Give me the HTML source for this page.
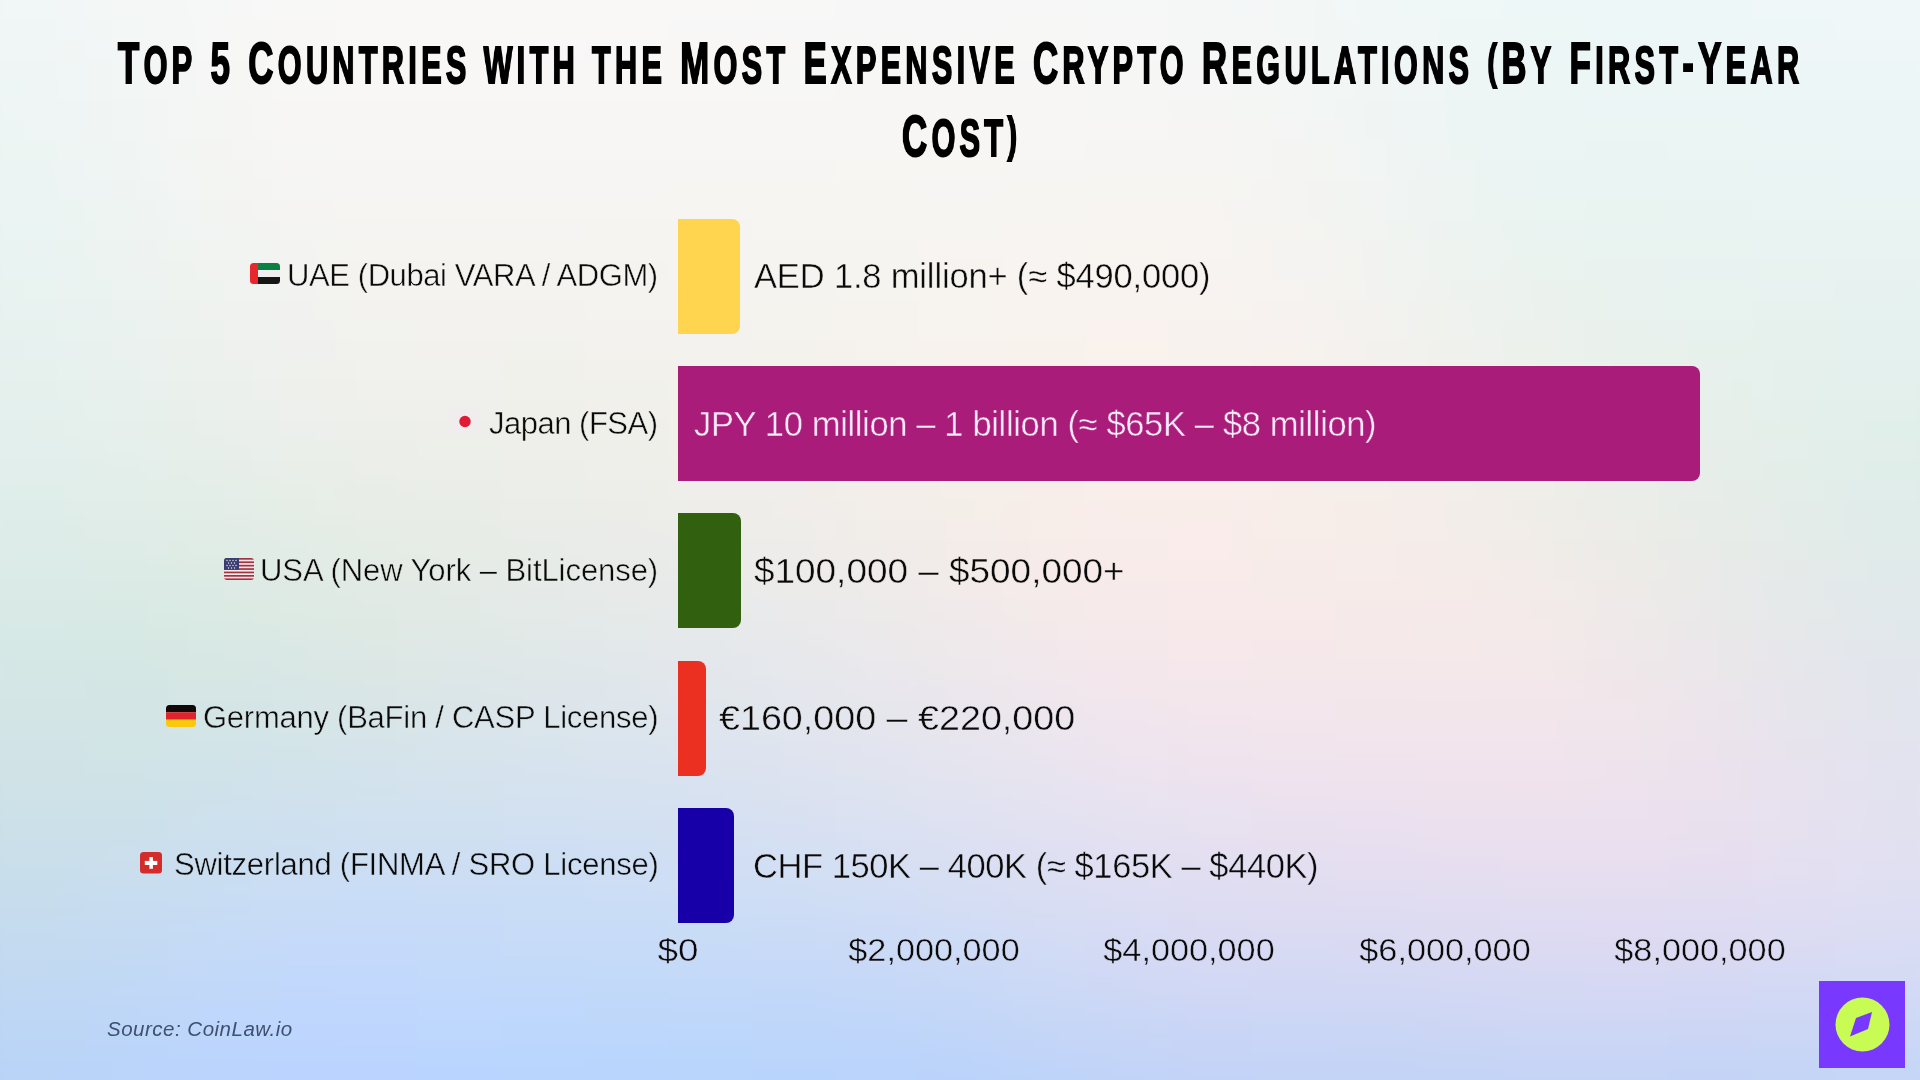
<!DOCTYPE html>
<html><head><meta charset="utf-8">
<style>
html,body{margin:0;padding:0;}
body{width:1920px;height:1080px;overflow:hidden;position:relative;font-family:"Liberation Sans",sans-serif;color:#0a0a0a;
}
.abs{position:absolute;white-space:nowrap;will-change:transform;}
.title{font-weight:bold;font-size:58px;line-height:58px;transform-origin:0 0;transform:scaleX(0.6);-webkit-text-stroke:2px #000;color:#000;letter-spacing:7.25px;}
.sc{font-size:51px;}
.pr{font-size:48px;position:relative;top:-5px;}
.lab{font-size:31px;line-height:31px;}
.val{font-size:34.5px;line-height:34.5px;}
.ax{font-size:32px;line-height:32px;transform:translateX(-50%) scaleX(1.07);}
.bar{position:absolute;left:678px;height:115px;border-radius:0 8px 8px 0;}
</style></head><body>
<div style="position:absolute;left:0;top:0;width:1920px;height:1080px;overflow:hidden;"><div id="bg" style="position:absolute;left:-40px;top:-40px;width:2000px;height:1160px;filter:blur(12px);">
<div style="position:absolute;left:0;top:0px;width:2000px;height:20px;background:linear-gradient(90deg,#f0f6f6 0.0%,#f1f6f6 4.2%,#f4f7f7 8.3%,#f7f7f7 12.5%,#f9f8f7 16.7%,#faf8f7 20.8%,#faf8f8 25.0%,#faf8f8 29.2%,#f9f8f8 33.3%,#f9f8f8 37.5%,#f8f8f8 41.7%,#f8f7f7 45.8%,#f7f7f7 50.0%,#f7f7f7 54.2%,#f6f7f7 58.3%,#f5f7f7 62.5%,#f4f7f7 66.7%,#f1f7f7 70.8%,#f0f7f7 75.0%,#eef7f7 79.2%,#eef7f7 83.3%,#eef7f8 87.5%,#eff7f8 91.7%,#eff7f8 95.8%,#f0f7f8 100.0%)"></div>
<div style="position:absolute;left:0;top:20px;width:2000px;height:20px;background:linear-gradient(90deg,#f0f6f6 0.0%,#f1f6f6 4.2%,#f4f7f7 8.3%,#f7f7f7 12.5%,#f9f8f7 16.7%,#faf8f7 20.8%,#faf8f8 25.0%,#faf8f8 29.2%,#f9f8f8 33.3%,#f9f8f8 37.5%,#f8f8f8 41.7%,#f8f7f7 45.8%,#f7f7f7 50.0%,#f7f7f7 54.2%,#f6f7f7 58.3%,#f5f7f7 62.5%,#f4f7f7 66.7%,#f1f7f7 70.8%,#f0f7f7 75.0%,#eef7f7 79.2%,#eef7f7 83.3%,#eef7f8 87.5%,#eff7f8 91.7%,#eff7f8 95.8%,#f0f7f8 100.0%)"></div>
<div style="position:absolute;left:0;top:40px;width:2000px;height:20px;background:linear-gradient(90deg,#f0f6f6 0.0%,#f1f6f6 4.2%,#f4f7f6 8.3%,#f6f7f7 12.5%,#f8f8f7 16.7%,#f9f8f7 20.8%,#faf8f7 25.0%,#f9f8f7 29.2%,#f9f8f7 33.3%,#f9f8f7 37.5%,#f8f8f7 41.7%,#f8f7f7 45.8%,#f7f7f7 50.0%,#f7f7f7 54.2%,#f6f7f7 58.3%,#f5f7f7 62.5%,#f3f7f6 66.7%,#f1f7f7 70.8%,#eff7f7 75.0%,#eef7f7 79.2%,#eef7f7 83.3%,#eef7f8 87.5%,#eff7f8 91.7%,#eff7f8 95.8%,#eff7f8 100.0%)"></div>
<div style="position:absolute;left:0;top:60px;width:2000px;height:20px;background:linear-gradient(90deg,#eff6f6 0.0%,#f0f6f6 4.2%,#f3f7f6 8.3%,#f6f7f6 12.5%,#f8f7f6 16.7%,#f9f8f7 20.8%,#f9f8f7 25.0%,#f9f8f7 29.2%,#f9f8f7 33.3%,#f8f7f7 37.5%,#f8f7f7 41.7%,#f7f7f7 45.8%,#f7f7f7 50.0%,#f7f7f6 54.2%,#f6f7f6 58.3%,#f5f7f6 62.5%,#f3f7f6 66.7%,#f1f7f6 70.8%,#eff7f6 75.0%,#edf7f6 79.2%,#edf7f7 83.3%,#edf7f7 87.5%,#eef7f7 91.7%,#eff7f8 95.8%,#eff7f8 100.0%)"></div>
<div style="position:absolute;left:0;top:80px;width:2000px;height:20px;background:linear-gradient(90deg,#eff6f5 0.0%,#f0f6f5 4.2%,#f3f6f6 8.3%,#f6f7f6 12.5%,#f8f7f6 16.7%,#f9f7f6 20.8%,#f9f7f6 25.0%,#f9f7f7 29.2%,#f8f7f7 33.3%,#f8f7f6 37.5%,#f8f7f6 41.7%,#f7f7f6 45.8%,#f7f7f6 50.0%,#f7f7f6 54.2%,#f6f7f6 58.3%,#f5f6f6 62.5%,#f3f6f5 66.7%,#f1f6f6 70.8%,#eef6f6 75.0%,#edf6f6 79.2%,#edf6f6 83.3%,#edf6f7 87.5%,#eef6f7 91.7%,#eef6f7 95.8%,#eef7f7 100.0%)"></div>
<div style="position:absolute;left:0;top:100px;width:2000px;height:20px;background:linear-gradient(90deg,#eef5f5 0.0%,#eff5f5 4.2%,#f2f6f5 8.3%,#f5f6f5 12.5%,#f8f7f5 16.7%,#f9f7f6 20.8%,#f9f7f6 25.0%,#f8f7f6 29.2%,#f8f7f6 33.3%,#f8f7f6 37.5%,#f7f7f6 41.7%,#f7f7f6 45.8%,#f7f6f6 50.0%,#f7f6f6 54.2%,#f6f6f5 58.3%,#f5f6f5 62.5%,#f3f6f5 66.7%,#f1f6f5 70.8%,#eef6f5 75.0%,#ecf6f5 79.2%,#ecf6f6 83.3%,#ecf6f6 87.5%,#edf6f6 91.7%,#edf6f7 95.8%,#eef6f7 100.0%)"></div>
<div style="position:absolute;left:0;top:120px;width:2000px;height:20px;background:linear-gradient(90deg,#edf5f5 0.0%,#eff5f5 4.2%,#f2f6f5 8.3%,#f5f6f5 12.5%,#f7f7f5 16.7%,#f8f7f5 20.8%,#f8f7f6 25.0%,#f8f7f6 29.2%,#f8f7f6 33.3%,#f8f7f5 37.5%,#f7f7f5 41.7%,#f7f6f5 45.8%,#f7f6f5 50.0%,#f7f6f5 54.2%,#f6f6f5 58.3%,#f5f6f5 62.5%,#f3f6f5 66.7%,#f1f6f5 70.8%,#eef6f5 75.0%,#ecf6f5 79.2%,#ebf6f5 83.3%,#ecf6f5 87.5%,#ecf6f6 91.7%,#edf6f6 95.8%,#edf6f6 100.0%)"></div>
<div style="position:absolute;left:0;top:140px;width:2000px;height:20px;background:linear-gradient(90deg,#edf5f4 0.0%,#eef5f4 4.2%,#f1f5f4 8.3%,#f4f6f4 12.5%,#f7f6f4 16.7%,#f8f6f5 20.8%,#f8f6f5 25.0%,#f8f6f5 29.2%,#f7f6f5 33.3%,#f7f6f5 37.5%,#f7f6f5 41.7%,#f7f6f5 45.8%,#f7f6f5 50.0%,#f7f6f5 54.2%,#f6f6f4 58.3%,#f5f6f4 62.5%,#f3f6f4 66.7%,#f0f5f4 70.8%,#edf5f4 75.0%,#ebf5f4 79.2%,#ebf5f5 83.3%,#ebf5f5 87.5%,#ecf5f5 91.7%,#ecf5f6 95.8%,#ecf5f6 100.0%)"></div>
<div style="position:absolute;left:0;top:160px;width:2000px;height:20px;background:linear-gradient(90deg,#ecf5f4 0.0%,#eef5f4 4.2%,#f1f5f4 8.3%,#f4f6f4 12.5%,#f7f6f4 16.7%,#f8f6f4 20.8%,#f7f6f5 25.0%,#f7f6f5 29.2%,#f7f6f4 33.3%,#f7f6f4 37.5%,#f7f6f4 41.7%,#f7f6f4 45.8%,#f7f6f4 50.0%,#f7f6f4 54.2%,#f7f6f4 58.3%,#f6f5f4 62.5%,#f4f5f4 66.7%,#f0f5f4 70.8%,#edf5f4 75.0%,#ebf5f4 79.2%,#ebf5f4 83.3%,#ebf5f4 87.5%,#ebf5f5 91.7%,#ecf5f5 95.8%,#ecf5f5 100.0%)"></div>
<div style="position:absolute;left:0;top:180px;width:2000px;height:20px;background:linear-gradient(90deg,#ecf4f3 0.0%,#edf5f3 4.2%,#f0f5f3 8.3%,#f4f5f3 12.5%,#f6f6f4 16.7%,#f7f6f4 20.8%,#f7f6f4 25.0%,#f7f6f4 29.2%,#f7f6f4 33.3%,#f7f6f4 37.5%,#f7f6f4 41.7%,#f7f6f4 45.8%,#f7f6f4 50.0%,#f7f6f4 54.2%,#f7f5f3 58.3%,#f6f5f3 62.5%,#f4f5f3 66.7%,#f1f5f3 70.8%,#edf5f3 75.0%,#ebf5f3 79.2%,#eaf5f3 83.3%,#eaf5f4 87.5%,#ebf5f4 91.7%,#ebf5f5 95.8%,#ebf5f5 100.0%)"></div>
<div style="position:absolute;left:0;top:200px;width:2000px;height:20px;background:linear-gradient(90deg,#ebf4f3 0.0%,#ecf4f3 4.2%,#f0f5f3 8.3%,#f3f5f3 12.5%,#f6f5f3 16.7%,#f7f5f3 20.8%,#f7f5f4 25.0%,#f6f5f4 29.2%,#f6f5f3 33.3%,#f7f5f3 37.5%,#f7f5f3 41.7%,#f7f6f3 45.8%,#f7f6f3 50.0%,#f7f5f3 54.2%,#f7f5f3 58.3%,#f6f5f3 62.5%,#f4f5f3 66.7%,#f1f5f3 70.8%,#edf4f3 75.0%,#eaf4f3 79.2%,#eaf4f3 83.3%,#eaf4f3 87.5%,#ebf4f4 91.7%,#ebf4f4 95.8%,#ebf4f4 100.0%)"></div>
<div style="position:absolute;left:0;top:220px;width:2000px;height:20px;background:linear-gradient(90deg,#eaf4f3 0.0%,#ecf4f3 4.2%,#eff4f3 8.3%,#f3f5f3 12.5%,#f5f5f3 16.7%,#f6f5f3 20.8%,#f6f5f3 25.0%,#f6f5f3 29.2%,#f6f5f3 33.3%,#f6f5f2 37.5%,#f6f5f2 41.7%,#f7f5f2 45.8%,#f7f5f3 50.0%,#f7f5f2 54.2%,#f7f5f2 58.3%,#f6f5f2 62.5%,#f4f4f2 66.7%,#f1f4f2 70.8%,#edf4f2 75.0%,#eaf4f2 79.2%,#eaf4f2 83.3%,#eaf4f2 87.5%,#eaf4f3 91.7%,#eaf4f4 95.8%,#eaf4f4 100.0%)"></div>
<div style="position:absolute;left:0;top:240px;width:2000px;height:20px;background:linear-gradient(90deg,#eaf4f2 0.0%,#ebf4f2 4.2%,#eef4f2 8.3%,#f2f4f2 12.5%,#f5f4f2 16.7%,#f6f5f2 20.8%,#f6f5f2 25.0%,#f6f5f2 29.2%,#f6f5f2 33.3%,#f6f5f2 37.5%,#f6f5f2 41.7%,#f7f5f2 45.8%,#f7f5f2 50.0%,#f7f5f2 54.2%,#f7f4f2 58.3%,#f7f4f2 62.5%,#f4f4f2 66.7%,#f1f4f2 70.8%,#edf4f2 75.0%,#eaf4f1 79.2%,#e9f4f1 83.3%,#e9f4f2 87.5%,#eaf4f2 91.7%,#eaf4f3 95.8%,#e9f4f3 100.0%)"></div>
<div style="position:absolute;left:0;top:260px;width:2000px;height:20px;background:linear-gradient(90deg,#e9f3f2 0.0%,#eaf4f2 4.2%,#eef4f2 8.3%,#f1f4f2 12.5%,#f4f4f2 16.7%,#f5f4f2 20.8%,#f5f4f2 25.0%,#f5f4f2 29.2%,#f5f4f1 33.3%,#f6f4f1 37.5%,#f6f5f1 41.7%,#f7f5f1 45.8%,#f7f5f1 50.0%,#f7f4f1 54.2%,#f8f4f1 58.3%,#f7f4f1 62.5%,#f5f4f1 66.7%,#f1f4f1 70.8%,#edf3f1 75.0%,#eaf3f1 79.2%,#e9f3f1 83.3%,#e9f3f1 87.5%,#e9f3f2 91.7%,#e9f3f2 95.8%,#e9f3f3 100.0%)"></div>
<div style="position:absolute;left:0;top:280px;width:2000px;height:20px;background:linear-gradient(90deg,#e8f3f1 0.0%,#eaf3f1 4.2%,#edf3f1 8.3%,#f1f4f1 12.5%,#f3f4f1 16.7%,#f5f4f1 20.8%,#f5f4f1 25.0%,#f5f4f1 29.2%,#f5f4f1 33.3%,#f5f4f0 37.5%,#f6f4f0 41.7%,#f6f4f0 45.8%,#f7f4f1 50.0%,#f8f4f1 54.2%,#f8f4f0 58.3%,#f7f4f1 62.5%,#f5f3f1 66.7%,#f2f3f1 70.8%,#eef3f0 75.0%,#eaf3f0 79.2%,#e9f3f0 83.3%,#e9f3f0 87.5%,#e9f3f1 91.7%,#e8f3f2 95.8%,#e8f3f2 100.0%)"></div>
<div style="position:absolute;left:0;top:300px;width:2000px;height:20px;background:linear-gradient(90deg,#e8f3f1 0.0%,#e9f3f1 4.2%,#edf3f1 8.3%,#f0f3f0 12.5%,#f3f3f0 16.7%,#f4f3f0 20.8%,#f4f3f0 25.0%,#f4f3f0 29.2%,#f5f3f0 33.3%,#f5f4f0 37.5%,#f6f4f0 41.7%,#f6f4f0 45.8%,#f7f4f0 50.0%,#f8f4f0 54.2%,#f8f4f0 58.3%,#f7f3f0 62.5%,#f5f3f1 66.7%,#f2f3f0 70.8%,#eef3f0 75.0%,#ebf3ef 79.2%,#e9f2ef 83.3%,#e8f2f0 87.5%,#e8f3f0 91.7%,#e8f3f1 95.8%,#e7f3f1 100.0%)"></div>
<div style="position:absolute;left:0;top:320px;width:2000px;height:20px;background:linear-gradient(90deg,#e7f2f0 0.0%,#e9f3f0 4.2%,#ecf3f0 8.3%,#eff3f0 12.5%,#f2f3f0 16.7%,#f4f3f0 20.8%,#f4f3f0 25.0%,#f4f3ef 29.2%,#f4f3ef 33.3%,#f5f3ef 37.5%,#f5f3ef 41.7%,#f6f4ef 45.8%,#f7f4ef 50.0%,#f8f3ef 54.2%,#f8f3ef 58.3%,#f8f3f0 62.5%,#f6f3f0 66.7%,#f2f3f0 70.8%,#eef2ef 75.0%,#ebf2ee 79.2%,#e9f2ee 83.3%,#e8f2ef 87.5%,#e8f2f0 91.7%,#e7f2f0 95.8%,#e6f2f1 100.0%)"></div>
<div style="position:absolute;left:0;top:340px;width:2000px;height:20px;background:linear-gradient(90deg,#e7f2f0 0.0%,#e8f2f0 4.2%,#ebf2ef 8.3%,#eff2ef 12.5%,#f1f2ef 16.7%,#f3f2ef 20.8%,#f3f2ef 25.0%,#f3f2ef 29.2%,#f4f3ef 33.3%,#f4f3ee 37.5%,#f5f3ee 41.7%,#f6f3ee 45.8%,#f7f3ee 50.0%,#f8f3ee 54.2%,#f8f3ef 58.3%,#f8f3ef 62.5%,#f6f2f0 66.7%,#f3f2ef 70.8%,#eff2ee 75.0%,#ebf2ee 79.2%,#e9f2ee 83.3%,#e8f2ee 87.5%,#e7f2ef 91.7%,#e6f2f0 95.8%,#e6f2f0 100.0%)"></div>
<div style="position:absolute;left:0;top:360px;width:2000px;height:20px;background:linear-gradient(90deg,#e6f2ef 0.0%,#e7f2ef 4.2%,#eaf2ef 8.3%,#eef2ef 12.5%,#f1f2ef 16.7%,#f2f2ee 20.8%,#f3f2ee 25.0%,#f3f2ee 29.2%,#f3f2ee 33.3%,#f4f2ee 37.5%,#f5f3ee 41.7%,#f6f3ee 45.8%,#f7f3ee 50.0%,#f8f3ee 54.2%,#f9f2ee 58.3%,#f8f2ee 62.5%,#f7f2ef 66.7%,#f3f2ef 70.8%,#eff2ee 75.0%,#ecf1ed 79.2%,#e9f1ed 83.3%,#e7f1ed 87.5%,#e6f1ee 91.7%,#e5f1ef 95.8%,#e5f1ef 100.0%)"></div>
<div style="position:absolute;left:0;top:380px;width:2000px;height:20px;background:linear-gradient(90deg,#e5f1ef 0.0%,#e7f1ef 4.2%,#eaf1ee 8.3%,#edf1ee 12.5%,#f0f1ee 16.7%,#f1f1ee 20.8%,#f2f1ed 25.0%,#f2f2ed 29.2%,#f3f2ed 33.3%,#f3f2ed 37.5%,#f4f2ed 41.7%,#f6f2ed 45.8%,#f7f2ed 50.0%,#f8f2ed 54.2%,#f9f2ed 58.3%,#f8f2ee 62.5%,#f7f2ee 66.7%,#f3f1ee 70.8%,#eff1ed 75.0%,#ecf1ec 79.2%,#e9f1ec 83.3%,#e7f1ec 87.5%,#e6f1ed 91.7%,#e5f1ee 95.8%,#e4f1ee 100.0%)"></div>
<div style="position:absolute;left:0;top:400px;width:2000px;height:20px;background:linear-gradient(90deg,#e5f1ee 0.0%,#e6f1ee 4.2%,#e9f1ee 8.3%,#ecf1ed 12.5%,#eff1ed 16.7%,#f1f1ed 20.8%,#f1f1ed 25.0%,#f1f1ec 29.2%,#f2f1ec 33.3%,#f3f1ec 37.5%,#f4f2ec 41.7%,#f5f2ec 45.8%,#f7f2ec 50.0%,#f8f2ec 54.2%,#f9f1ed 58.3%,#f8f1ed 62.5%,#f7f1ee 66.7%,#f4f1ed 70.8%,#f0f1ec 75.0%,#ecf0ec 79.2%,#e9f0eb 83.3%,#e7f0ec 87.5%,#e5f0ec 91.7%,#e4f0ed 95.8%,#e3f0ed 100.0%)"></div>
<div style="position:absolute;left:0;top:420px;width:2000px;height:20px;background:linear-gradient(90deg,#e4f0ee 0.0%,#e5f0ed 4.2%,#e8f0ed 8.3%,#ebf0ec 12.5%,#eef0ec 16.7%,#f0f0ec 20.8%,#f0f0ec 25.0%,#f1f1ec 29.2%,#f1f1ec 33.3%,#f2f1ec 37.5%,#f4f1ec 41.7%,#f5f1ec 45.8%,#f7f1eb 50.0%,#f8f1ec 54.2%,#f9f1ec 58.3%,#f9f1ed 62.5%,#f7f1ed 66.7%,#f4f1ed 70.8%,#f0f0ec 75.0%,#ecf0eb 79.2%,#e9f0eb 83.3%,#e7f0eb 87.5%,#e5f0ec 91.7%,#e3f0ec 95.8%,#e2f0ed 100.0%)"></div>
<div style="position:absolute;left:0;top:440px;width:2000px;height:20px;background:linear-gradient(90deg,#e3f0ed 0.0%,#e4f0ed 4.2%,#e7f0ec 8.3%,#eaf0ec 12.5%,#edf0ec 16.7%,#eff0eb 20.8%,#eff0eb 25.0%,#f0f0eb 29.2%,#f1f0eb 33.3%,#f2f0eb 37.5%,#f3f1eb 41.7%,#f5f1eb 45.8%,#f6f1eb 50.0%,#f8f1eb 54.2%,#f9f0ec 58.3%,#f9f0ec 62.5%,#f7f0ec 66.7%,#f4f0ec 70.8%,#f1f0eb 75.0%,#edf0ea 79.2%,#e9efea 83.3%,#e7efea 87.5%,#e4efeb 91.7%,#e2efeb 95.8%,#e1efec 100.0%)"></div>
<div style="position:absolute;left:0;top:460px;width:2000px;height:20px;background:linear-gradient(90deg,#e2efed 0.0%,#e4efec 4.2%,#e6efeb 8.3%,#e9efeb 12.5%,#ecefeb 16.7%,#edefea 20.8%,#eeefea 25.0%,#efefea 29.2%,#f0f0eb 33.3%,#f1f0eb 37.5%,#f2f0eb 41.7%,#f4f0eb 45.8%,#f6f0ea 50.0%,#f8f0eb 54.2%,#f9f0eb 58.3%,#f9f0eb 62.5%,#f7f0ec 66.7%,#f5f0eb 70.8%,#f1efeb 75.0%,#edefea 79.2%,#eaefe9 83.3%,#e7efea 87.5%,#e4efea 91.7%,#e1efeb 95.8%,#e0efeb 100.0%)"></div>
<div style="position:absolute;left:0;top:480px;width:2000px;height:20px;background:linear-gradient(90deg,#e2efec 0.0%,#e3efec 4.2%,#e5efeb 8.3%,#e7efea 12.5%,#eaefea 16.7%,#ecefe9 20.8%,#edefe9 25.0%,#eeefea 29.2%,#efefea 33.3%,#f0efea 37.5%,#f2efea 41.7%,#f4f0ea 45.8%,#f6f0ea 50.0%,#f8efea 54.2%,#f9efeb 58.3%,#f9efeb 62.5%,#f7efeb 66.7%,#f5efeb 70.8%,#f2efea 75.0%,#eeefe9 79.2%,#eaeee9 83.3%,#e7eee9 87.5%,#e4eeea 91.7%,#e1eeea 95.8%,#e0eeeb 100.0%)"></div>
<div style="position:absolute;left:0;top:500px;width:2000px;height:20px;background:linear-gradient(90deg,#e1eeeb 0.0%,#e2eeeb 4.2%,#e3eeea 8.3%,#e6eee9 12.5%,#e9eee9 16.7%,#ebeee9 20.8%,#eceee9 25.0%,#edeee9 29.2%,#eeeeea 33.3%,#efefea 37.5%,#f1efea 41.7%,#f3efea 45.8%,#f5efe9 50.0%,#f8efea 54.2%,#f9efea 58.3%,#f9eeea 62.5%,#f7eeea 66.7%,#f5efea 70.8%,#f2eeea 75.0%,#eeeee9 79.2%,#eaeee8 83.3%,#e7eee9 87.5%,#e3eee9 91.7%,#e0eeea 95.8%,#dfeeea 100.0%)"></div>
<div style="position:absolute;left:0;top:520px;width:2000px;height:20px;background:linear-gradient(90deg,#e0eeeb 0.0%,#e0eeea 4.2%,#e2eee9 8.3%,#e4eee8 12.5%,#e7eee8 16.7%,#e9ede8 20.8%,#ebeee8 25.0%,#eceee9 29.2%,#edeee9 33.3%,#efeeea 37.5%,#f0eeea 41.7%,#f3eeea 45.8%,#f5eee9 50.0%,#f7eee9 54.2%,#f9eeea 58.3%,#f9eeea 62.5%,#f7eeea 66.7%,#f5eeea 70.8%,#f2eee9 75.0%,#efeee9 79.2%,#ebede8 83.3%,#e7ede9 87.5%,#e4ede9 91.7%,#e0edea 95.8%,#dfedea 100.0%)"></div>
<div style="position:absolute;left:0;top:540px;width:2000px;height:20px;background:linear-gradient(90deg,#dfedea 0.0%,#dfedea 4.2%,#e1ede8 8.3%,#e3ede7 12.5%,#e6ede7 16.7%,#e8ede7 20.8%,#e9ede7 25.0%,#ebede8 29.2%,#ecede9 33.3%,#eeedea 37.5%,#f0edea 41.7%,#f2eee9 45.8%,#f4eee9 50.0%,#f7ede9 54.2%,#f9edea 58.3%,#f9edea 62.5%,#f7ede9 66.7%,#f6ede9 70.8%,#f3ede9 75.0%,#efede8 79.2%,#ebede8 83.3%,#e7ece8 87.5%,#e4ece9 91.7%,#e0ecea 95.8%,#dfecea 100.0%)"></div>
<div style="position:absolute;left:0;top:560px;width:2000px;height:20px;background:linear-gradient(90deg,#ddecea 0.0%,#deece9 4.2%,#dfece7 8.3%,#e1ece7 12.5%,#e4ece6 16.7%,#e6ece6 20.8%,#e8ece7 25.0%,#e9ece8 29.2%,#ebece9 33.3%,#ededea 37.5%,#efedea 41.7%,#f1ede9 45.8%,#f4ede9 50.0%,#f7ede9 54.2%,#f8edea 58.3%,#f9ecea 62.5%,#f7ede9 66.7%,#f6ede9 70.8%,#f3ede9 75.0%,#f0ede8 79.2%,#ecece8 83.3%,#e8ece8 87.5%,#e4ece9 91.7%,#e0ecea 95.8%,#dfecea 100.0%)"></div>
<div style="position:absolute;left:0;top:580px;width:2000px;height:20px;background:linear-gradient(90deg,#dcece9 0.0%,#ddece8 4.2%,#deece7 8.3%,#e0ece6 12.5%,#e2ece6 16.7%,#e5ece6 20.8%,#e7ece6 25.0%,#e8ece8 29.2%,#eaece9 33.3%,#ebecea 37.5%,#eeecea 41.7%,#f0ece9 45.8%,#f3ece9 50.0%,#f6ece9 54.2%,#f8ecea 58.3%,#f9ecea 62.5%,#f7ece9 66.7%,#f6ece9 70.8%,#f4ece9 75.0%,#f0ece8 79.2%,#ecebe8 83.3%,#e8ebe8 87.5%,#e4ebe9 91.7%,#e1ebea 95.8%,#dfebeb 100.0%)"></div>
<div style="position:absolute;left:0;top:600px;width:2000px;height:20px;background:linear-gradient(90deg,#dbebe8 0.0%,#dbebe7 4.2%,#dcebe6 8.3%,#deebe5 12.5%,#e1ebe5 16.7%,#e3ebe5 20.8%,#e5ebe6 25.0%,#e7ebe8 29.2%,#e8ebe9 33.3%,#eaebea 37.5%,#edebea 41.7%,#efecea 45.8%,#f2ece9 50.0%,#f6ebea 54.2%,#f8ebea 58.3%,#f8ebea 62.5%,#f7ebe9 66.7%,#f6ece9 70.8%,#f4ece9 75.0%,#f1ebe9 79.2%,#edebe8 83.3%,#e9eae9 87.5%,#e5eae9 91.7%,#e1eaea 95.8%,#e0eaeb 100.0%)"></div>
<div style="position:absolute;left:0;top:620px;width:2000px;height:20px;background:linear-gradient(90deg,#daeae7 0.0%,#daeae7 4.2%,#daeae5 8.3%,#dceae5 12.5%,#dfeae5 16.7%,#e2eae5 20.8%,#e4eae6 25.0%,#e5eae8 29.2%,#e7eae9 33.3%,#e9eaea 37.5%,#ebebea 41.7%,#eeebea 45.8%,#f2ebea 50.0%,#f5ebea 54.2%,#f7eaea 58.3%,#f8eaea 62.5%,#f7ebe9 66.7%,#f6ebe9 70.8%,#f5ebe9 75.0%,#f2ebe9 79.2%,#eeeae8 83.3%,#e9eae9 87.5%,#e5e9ea 91.7%,#e1e9eb 95.8%,#e0e9eb 100.0%)"></div>
<div style="position:absolute;left:0;top:640px;width:2000px;height:20px;background:linear-gradient(90deg,#d8e9e7 0.0%,#d9e9e6 4.2%,#d9eae5 8.3%,#dbeae4 12.5%,#deeae4 16.7%,#e0eae4 20.8%,#e2eae6 25.0%,#e4eae8 29.2%,#e6eae9 33.3%,#e8eaea 37.5%,#eaeaeb 41.7%,#edeaea 45.8%,#f1eaea 50.0%,#f4eaea 54.2%,#f7eaea 58.3%,#f8eaea 62.5%,#f7eae9 66.7%,#f6eae9 70.8%,#f5eae9 75.0%,#f2eae9 79.2%,#eeeae9 83.3%,#eae9e9 87.5%,#e5e9ea 91.7%,#e2e9eb 95.8%,#e0e9ec 100.0%)"></div>
<div style="position:absolute;left:0;top:660px;width:2000px;height:20px;background:linear-gradient(90deg,#d7e8e6 0.0%,#d7e9e6 4.2%,#d7e9e4 8.3%,#d9e9e4 12.5%,#dce9e4 16.7%,#dfe9e4 20.8%,#e1e9e6 25.0%,#e2e9e8 29.2%,#e4e9ea 33.3%,#e6e9eb 37.5%,#e9e9eb 41.7%,#ece9eb 45.8%,#efe9eb 50.0%,#f3e9eb 54.2%,#f6e9eb 58.3%,#f7e9ea 62.5%,#f7e9ea 66.7%,#f6e9ea 70.8%,#f5eaea 75.0%,#f3eae9 79.2%,#efe9e9 83.3%,#eae8e9 87.5%,#e6e8ea 91.7%,#e2e8eb 95.8%,#e0e8ec 100.0%)"></div>
<div style="position:absolute;left:0;top:680px;width:2000px;height:20px;background:linear-gradient(90deg,#d6e8e6 0.0%,#d6e8e5 4.2%,#d6e8e4 8.3%,#d8e8e4 12.5%,#dae8e5 16.7%,#dde8e5 20.8%,#dfe8e6 25.0%,#e1e8e8 29.2%,#e3e8ea 33.3%,#e5e8eb 37.5%,#e7e8eb 41.7%,#ebe9eb 45.8%,#eee9eb 50.0%,#f2e8eb 54.2%,#f5e8eb 58.3%,#f6e8eb 62.5%,#f6e8ea 66.7%,#f6e9ea 70.8%,#f5e9ea 75.0%,#f3e9ea 79.2%,#efe8ea 83.3%,#ebe7ea 87.5%,#e6e7eb 91.7%,#e2e7ec 95.8%,#e1e7ec 100.0%)"></div>
<div style="position:absolute;left:0;top:700px;width:2000px;height:20px;background:linear-gradient(90deg,#d5e7e6 0.0%,#d5e7e5 4.2%,#d5e7e4 8.3%,#d6e7e4 12.5%,#d9e7e5 16.7%,#dce7e5 20.8%,#dee7e7 25.0%,#dfe7e9 29.2%,#e1e7eb 33.3%,#e3e7ec 37.5%,#e6e8ec 41.7%,#e9e8ec 45.8%,#ede8ec 50.0%,#f1e8ec 54.2%,#f4e7ec 58.3%,#f5e7eb 62.5%,#f5e8eb 66.7%,#f5e8ea 70.8%,#f5e8ea 75.0%,#f3e8ea 79.2%,#efe7ea 83.3%,#ebe7ea 87.5%,#e6e6eb 91.7%,#e2e6ec 95.8%,#e1e6ed 100.0%)"></div>
<div style="position:absolute;left:0;top:720px;width:2000px;height:20px;background:linear-gradient(90deg,#d4e6e6 0.0%,#d4e6e5 4.2%,#d4e6e4 8.3%,#d5e6e5 12.5%,#d7e6e6 16.7%,#dae6e6 20.8%,#dce6e8 25.0%,#dee6ea 29.2%,#dfe6ec 33.3%,#e2e7ec 37.5%,#e4e7ed 41.7%,#e8e7ed 45.8%,#ebe7ec 50.0%,#efe7ed 54.2%,#f3e7ec 58.3%,#f4e7ec 62.5%,#f4e7eb 66.7%,#f4e7eb 70.8%,#f4e7eb 75.0%,#f3e7eb 79.2%,#f0e6ea 83.3%,#ebe6eb 87.5%,#e7e5ec 91.7%,#e3e5ed 95.8%,#e1e6ed 100.0%)"></div>
<div style="position:absolute;left:0;top:740px;width:2000px;height:20px;background:linear-gradient(90deg,#d3e5e5 0.0%,#d3e5e5 4.2%,#d3e5e5 8.3%,#d4e5e6 12.5%,#d6e5e7 16.7%,#d8e5e7 20.8%,#dae5e9 25.0%,#dce5eb 29.2%,#dee6ec 33.3%,#e0e6ed 37.5%,#e3e6ed 41.7%,#e6e6ed 45.8%,#eae6ed 50.0%,#eee6ed 54.2%,#f1e6ed 58.3%,#f3e6ec 62.5%,#f3e6ec 66.7%,#f3e6eb 70.8%,#f3e6eb 75.0%,#f2e6eb 79.2%,#f0e6eb 83.3%,#ece5eb 87.5%,#e7e5ec 91.7%,#e3e5ed 95.8%,#e1e5ee 100.0%)"></div>
<div style="position:absolute;left:0;top:760px;width:2000px;height:20px;background:linear-gradient(90deg,#d2e4e6 0.0%,#d2e4e5 4.2%,#d2e4e5 8.3%,#d3e5e7 12.5%,#d5e5e8 16.7%,#d7e5e9 20.8%,#d9e5ea 25.0%,#dae5ec 29.2%,#dce5ed 33.3%,#dee5ee 37.5%,#e1e5ee 41.7%,#e4e5ee 45.8%,#e8e5ee 50.0%,#ece6ee 54.2%,#f0e5ee 58.3%,#f1e5ed 62.5%,#f2e5ec 66.7%,#f2e5ec 70.8%,#f3e5ec 75.0%,#f2e5ec 79.2%,#efe5eb 83.3%,#ece4ec 87.5%,#e7e4ed 91.7%,#e3e4ee 95.8%,#e1e4ee 100.0%)"></div>
<div style="position:absolute;left:0;top:780px;width:2000px;height:20px;background:linear-gradient(90deg,#d1e3e6 0.0%,#d1e3e6 4.2%,#d1e4e6 8.3%,#d1e4e8 12.5%,#d3e4e9 16.7%,#d5e4ea 20.8%,#d7e4eb 25.0%,#d8e4ed 29.2%,#dae4ee 33.3%,#dce4ef 37.5%,#dfe4ef 41.7%,#e2e4ef 45.8%,#e6e5ef 50.0%,#eae5ef 54.2%,#eee5ee 58.3%,#f0e4ee 62.5%,#f0e4ed 66.7%,#f1e4ec 70.8%,#f1e4ec 75.0%,#f1e4ec 79.2%,#efe4ec 83.3%,#ece3ec 87.5%,#e7e3ed 91.7%,#e3e3ee 95.8%,#e1e4ef 100.0%)"></div>
<div style="position:absolute;left:0;top:800px;width:2000px;height:20px;background:linear-gradient(90deg,#d0e2e6 0.0%,#d0e2e6 4.2%,#d0e3e7 8.3%,#d0e3e9 12.5%,#d2e3ea 16.7%,#d4e3eb 20.8%,#d5e3ed 25.0%,#d7e3ee 29.2%,#d8e3ef 33.3%,#dae3ef 37.5%,#dde3ef 41.7%,#e0e4ef 45.8%,#e4e4ef 50.0%,#e8e4ef 54.2%,#ece4ef 58.3%,#eee3ee 62.5%,#efe3ee 66.7%,#efe3ed 70.8%,#f0e3ed 75.0%,#f0e3ed 79.2%,#eee3ed 83.3%,#ebe2ed 87.5%,#e7e2ee 91.7%,#e3e3ef 95.8%,#e1e3ef 100.0%)"></div>
<div style="position:absolute;left:0;top:820px;width:2000px;height:20px;background:linear-gradient(90deg,#cee1e7 0.0%,#cfe2e7 4.2%,#cee2e8 8.3%,#cfe2ea 12.5%,#d1e2ec 16.7%,#d2e2ed 20.8%,#d4e2ee 25.0%,#d5e2ef 29.2%,#d6e2f0 33.3%,#d8e2f0 37.5%,#dbe2f0 41.7%,#dee3f0 45.8%,#e2e3f0 50.0%,#e6e3f0 54.2%,#eae3f0 58.3%,#ece2ef 62.5%,#ede2ee 66.7%,#eee2ee 70.8%,#eee2ed 75.0%,#efe2ed 79.2%,#ede2ed 83.3%,#ebe2ed 87.5%,#e7e2ee 91.7%,#e3e2ef 95.8%,#e1e2f0 100.0%)"></div>
<div style="position:absolute;left:0;top:840px;width:2000px;height:20px;background:linear-gradient(90deg,#cde0e7 0.0%,#cde1e8 4.2%,#cde1e9 8.3%,#cee1ec 12.5%,#cfe1ee 16.7%,#d1e1ef 20.8%,#d2e1ef 25.0%,#d3e1f0 29.2%,#d4e1f1 33.3%,#d6e1f1 37.5%,#d9e1f1 41.7%,#dce2f1 45.8%,#e0e2f1 50.0%,#e4e2f1 54.2%,#e7e2f0 58.3%,#e9e2f0 62.5%,#ebe1ef 66.7%,#ece1ee 70.8%,#ede1ee 75.0%,#ede1ee 79.2%,#ece1ee 83.3%,#eae1ee 87.5%,#e7e1ef 91.7%,#e3e1f0 95.8%,#e1e2f0 100.0%)"></div>
<div style="position:absolute;left:0;top:860px;width:2000px;height:20px;background:linear-gradient(90deg,#ccdfe8 0.0%,#cce0e9 4.2%,#cce0ea 8.3%,#cde0ed 12.5%,#cee0ef 16.7%,#cfe0f0 20.8%,#d0e0f1 25.0%,#d1e0f2 29.2%,#d2e0f2 33.3%,#d4e0f2 37.5%,#d7e0f2 41.7%,#dae1f2 45.8%,#dde1f1 50.0%,#e1e1f1 54.2%,#e5e1f1 58.3%,#e7e1f0 62.5%,#e8e0ef 66.7%,#e9e0ef 70.8%,#ebe0ee 75.0%,#ebe0ee 79.2%,#ebe0ee 83.3%,#e9e0ee 87.5%,#e6e0ef 91.7%,#e3e1f0 95.8%,#e0e1f1 100.0%)"></div>
<div style="position:absolute;left:0;top:880px;width:2000px;height:20px;background:linear-gradient(90deg,#cbdee9 0.0%,#cbdfea 4.2%,#cbdfec 8.3%,#cbdfef 12.5%,#ccdff1 16.7%,#cedff2 20.8%,#cedff2 25.0%,#cfdff3 29.2%,#d0dff3 33.3%,#d2dff3 37.5%,#d4e0f3 41.7%,#d7e0f2 45.8%,#dbe0f2 50.0%,#dfe0f2 54.2%,#e2e0f2 58.3%,#e5dff1 62.5%,#e6dff0 66.7%,#e7dfef 70.8%,#e8dfef 75.0%,#e9dfef 79.2%,#e9dfef 83.3%,#e8dfef 87.5%,#e5e0f0 91.7%,#e2e0f1 95.8%,#e0e1f1 100.0%)"></div>
<div style="position:absolute;left:0;top:900px;width:2000px;height:20px;background:linear-gradient(90deg,#c9ddea 0.0%,#c9deeb 4.2%,#cadeed 8.3%,#cadef0 12.5%,#cbdef3 16.7%,#ccdef4 20.8%,#cddef4 25.0%,#cddef4 29.2%,#cedef4 33.3%,#d0def4 37.5%,#d2dff4 41.7%,#d5dff3 45.8%,#d8dff3 50.0%,#dcdff2 54.2%,#e0dff2 58.3%,#e2def1 62.5%,#e3def1 66.7%,#e4def0 70.8%,#e6def0 75.0%,#e7def0 79.2%,#e7def0 83.3%,#e6def0 87.5%,#e4dff1 91.7%,#e1e0f2 95.8%,#dfe0f2 100.0%)"></div>
<div style="position:absolute;left:0;top:920px;width:2000px;height:20px;background:linear-gradient(90deg,#c8dceb 0.0%,#c8ddec 4.2%,#c8ddef 8.3%,#c9ddf2 12.5%,#caddf5 16.7%,#caddf6 20.8%,#cbddf5 25.0%,#cbddf5 29.2%,#ccdef5 33.3%,#cedef5 37.5%,#d0def4 41.7%,#d2def4 45.8%,#d6def3 50.0%,#dadef3 54.2%,#dddef3 58.3%,#dfddf2 62.5%,#e1ddf1 66.7%,#e2ddf1 70.8%,#e3ddf0 75.0%,#e4ddf0 79.2%,#e4ddf0 83.3%,#e3ddf0 87.5%,#e2def1 91.7%,#e0dff2 95.8%,#dddff2 100.0%)"></div>
<div style="position:absolute;left:0;top:940px;width:2000px;height:20px;background:linear-gradient(90deg,#c6dbed 0.0%,#c6dced 4.2%,#c7dcf0 8.3%,#c7dcf3 12.5%,#c8dcf6 16.7%,#c9dcf7 20.8%,#c9dcf7 25.0%,#c9ddf6 29.2%,#caddf6 33.3%,#cbddf6 37.5%,#cdddf5 41.7%,#d0ddf5 45.8%,#d3ddf4 50.0%,#d7ddf3 54.2%,#daddf3 58.3%,#dddcf2 62.5%,#dedcf2 66.7%,#dfdcf1 70.8%,#e0dcf1 75.0%,#e1dcf1 79.2%,#e2dcf1 83.3%,#e1dcf1 87.5%,#dfddf2 91.7%,#dedef3 95.8%,#dcdef3 100.0%)"></div>
<div style="position:absolute;left:0;top:960px;width:2000px;height:20px;background:linear-gradient(90deg,#c5daee 0.0%,#c5dbef 4.2%,#c5dbf2 8.3%,#c6dbf5 12.5%,#c7dbf8 16.7%,#c7dbf9 20.8%,#c7dbf8 25.0%,#c8dcf7 29.2%,#c8dcf7 33.3%,#c9dcf6 37.5%,#cbdbf6 41.7%,#cddbf6 45.8%,#d0dcf5 50.0%,#d4dcf4 54.2%,#d7dcf4 58.3%,#dadbf3 62.5%,#dbdbf2 66.7%,#dbdbf2 70.8%,#dddbf1 75.0%,#dedbf2 79.2%,#dfdbf2 83.3%,#dedbf2 87.5%,#dddcf2 91.7%,#dbddf3 95.8%,#dadef3 100.0%)"></div>
<div style="position:absolute;left:0;top:980px;width:2000px;height:20px;background:linear-gradient(90deg,#c3d9ef 0.0%,#c3daf0 4.2%,#c4daf3 8.3%,#c4daf6 12.5%,#c5dafa 16.7%,#c5dafa 20.8%,#c5daf9 25.0%,#c5dbf8 29.2%,#c6dbf8 33.3%,#c7dbf7 37.5%,#c8daf7 41.7%,#cadaf6 45.8%,#cddbf6 50.0%,#d1dbf5 54.2%,#d5daf4 58.3%,#d7daf4 62.5%,#d8daf3 66.7%,#d8daf2 70.8%,#dadaf2 75.0%,#dbdaf2 79.2%,#dbdaf2 83.3%,#dbdaf2 87.5%,#dadbf3 91.7%,#d9dcf4 95.8%,#d7ddf4 100.0%)"></div>
<div style="position:absolute;left:0;top:1000px;width:2000px;height:20px;background:linear-gradient(90deg,#c1d8f0 0.0%,#c2d9f1 4.2%,#c2d9f4 8.3%,#c3d9f8 12.5%,#c3d9fb 16.7%,#c3d9fb 20.8%,#c3dafa 25.0%,#c3daf9 29.2%,#c4daf9 33.3%,#c5daf8 37.5%,#c6d9f8 41.7%,#c8d9f7 45.8%,#cad9f6 50.0%,#cedaf5 54.2%,#d2d9f5 58.3%,#d4d9f4 62.5%,#d4d9f3 66.7%,#d5d9f3 70.8%,#d6d9f3 75.0%,#d8d9f3 79.2%,#d8d9f3 83.3%,#d7d9f3 87.5%,#d6daf4 91.7%,#d6dbf4 95.8%,#d5dcf4 100.0%)"></div>
<div style="position:absolute;left:0;top:1020px;width:2000px;height:20px;background:linear-gradient(90deg,#c0d7f1 0.0%,#c0d8f3 4.2%,#c1d8f6 8.3%,#c1d8f9 12.5%,#c1d8fc 16.7%,#c2d8fc 20.8%,#c1d9fc 25.0%,#c1d9fa 29.2%,#c2d9f9 33.3%,#c2d9f9 37.5%,#c3d8f9 41.7%,#c5d8f8 45.8%,#c7d8f7 50.0%,#cbd9f6 54.2%,#ced8f5 58.3%,#d1d8f5 62.5%,#d1d8f4 66.7%,#d1d8f3 70.8%,#d3d8f3 75.0%,#d4d8f3 79.2%,#d5d8f4 83.3%,#d4d8f4 87.5%,#d3d9f4 91.7%,#d3daf5 95.8%,#d2dbf5 100.0%)"></div>
<div style="position:absolute;left:0;top:1040px;width:2000px;height:20px;background:linear-gradient(90deg,#bed6f3 0.0%,#bed7f4 4.2%,#bfd7f7 8.3%,#bfd7fa 12.5%,#c0d7fd 16.7%,#c0d7fd 20.8%,#bfd8fc 25.0%,#bfd8fb 29.2%,#bfd8fa 33.3%,#c0d8fa 37.5%,#c1d7f9 41.7%,#c2d7f9 45.8%,#c4d7f8 50.0%,#c8d7f6 54.2%,#cbd7f6 58.3%,#cdd6f5 62.5%,#ced7f5 66.7%,#ced7f4 70.8%,#cfd7f4 75.0%,#d1d7f4 79.2%,#d1d7f4 83.3%,#d0d7f4 87.5%,#cfd8f5 91.7%,#cfd9f5 95.8%,#cfdaf5 100.0%)"></div>
<div style="position:absolute;left:0;top:1060px;width:2000px;height:20px;background:linear-gradient(90deg,#bcd5f4 0.0%,#bdd6f5 4.2%,#bdd6f8 8.3%,#bed6fb 12.5%,#bed6fe 16.7%,#bed6fe 20.8%,#bed7fd 25.0%,#bdd7fc 29.2%,#bdd7fb 33.3%,#bdd7fb 37.5%,#bed6fa 41.7%,#bfd6fa 45.8%,#c1d6f9 50.0%,#c5d6f7 54.2%,#c8d6f6 58.3%,#cad5f6 62.5%,#cad6f5 66.7%,#cad6f5 70.8%,#ccd6f4 75.0%,#cdd6f5 79.2%,#cdd6f5 83.3%,#ccd6f5 87.5%,#ccd7f5 91.7%,#ccd8f6 95.8%,#ccd9f6 100.0%)"></div>
<div style="position:absolute;left:0;top:1080px;width:2000px;height:20px;background:linear-gradient(90deg,#bbd4f5 0.0%,#bbd5f6 4.2%,#bbd5f9 8.3%,#bcd5fc 12.5%,#bcd5fe 16.7%,#bcd5ff 20.8%,#bbd6fe 25.0%,#bbd6fd 29.2%,#bbd6fc 33.3%,#bbd6fb 37.5%,#bcd5fb 41.7%,#bdd5fa 45.8%,#bed5fa 50.0%,#c2d5f8 54.2%,#c5d5f7 58.3%,#c7d4f6 62.5%,#c7d5f6 66.7%,#c7d5f5 70.8%,#c8d5f5 75.0%,#cad5f5 79.2%,#cad5f6 83.3%,#c9d5f6 87.5%,#c8d6f6 91.7%,#c9d7f6 95.8%,#c9d8f6 100.0%)"></div>
<div style="position:absolute;left:0;top:1100px;width:2000px;height:20px;background:linear-gradient(90deg,#b9d3f6 0.0%,#b9d4f7 4.2%,#bad4fa 8.3%,#bad4fd 12.5%,#bad4ff 16.7%,#bad4ff 20.8%,#b9d5ff 25.0%,#b9d5fe 29.2%,#b9d5fd 33.3%,#b9d5fc 37.5%,#b9d4fc 41.7%,#bad4fb 45.8%,#bcd3fa 50.0%,#bfd4f9 54.2%,#c2d4f8 58.3%,#c4d3f7 62.5%,#c4d4f6 66.7%,#c4d4f6 70.8%,#c5d4f6 75.0%,#c6d4f6 79.2%,#c6d4f6 83.3%,#c5d4f6 87.5%,#c5d5f6 91.7%,#c6d6f7 95.8%,#c6d7f7 100.0%)"></div>
<div style="position:absolute;left:0;top:1120px;width:2000px;height:20px;background:linear-gradient(90deg,#b8d3f6 0.0%,#b8d3f8 4.2%,#b9d3fb 8.3%,#b9d3fd 12.5%,#b9d4ff 16.7%,#b9d4ff 20.8%,#b8d4ff 25.0%,#b8d4fe 29.2%,#b8d4fd 33.3%,#b8d4fd 37.5%,#b8d4fc 41.7%,#b9d3fc 45.8%,#bad3fb 50.0%,#bdd3f9 54.2%,#c0d3f8 58.3%,#c2d3f7 62.5%,#c2d3f7 66.7%,#c2d3f6 70.8%,#c3d3f6 75.0%,#c4d3f6 79.2%,#c4d3f6 83.3%,#c3d4f6 87.5%,#c3d4f7 91.7%,#c4d6f7 95.8%,#c4d6f7 100.0%)"></div>
<div style="position:absolute;left:0;top:1140px;width:2000px;height:20px;background:linear-gradient(90deg,#b8d3f6 0.0%,#b8d3f8 4.2%,#b9d3fb 8.3%,#b9d3fd 12.5%,#b9d4ff 16.7%,#b9d4ff 20.8%,#b8d4ff 25.0%,#b8d4fe 29.2%,#b8d4fd 33.3%,#b8d4fd 37.5%,#b8d4fc 41.7%,#b9d3fc 45.8%,#bad3fb 50.0%,#bdd3f9 54.2%,#c0d3f8 58.3%,#c2d3f7 62.5%,#c2d3f7 66.7%,#c2d3f6 70.8%,#c3d3f6 75.0%,#c4d3f6 79.2%,#c4d3f6 83.3%,#c3d4f6 87.5%,#c3d4f7 91.7%,#c4d6f7 95.8%,#c4d6f7 100.0%)"></div>
</div></div>

<div id="t1" class="abs title" style="left:118px;top:34px;">T<span class="sc">OP</span> 5 C<span class="sc">OUNTRIES WITH THE</span> M<span class="sc">OST</span> E<span class="sc">XPENSIVE</span> C<span class="sc">RYPTO</span> R<span class="sc">EGULATIONS</span> <span class="pr">(</span>B<span class="sc">Y</span> F<span class="sc">IRST</span>-Y<span class="sc">EAR</span></div>
<div id="t2" class="abs title" style="left:902px;top:107px;">C<span class="sc">OST</span><span class="pr">)</span></div>

<!-- bars -->
<div class="bar" style="top:219px;width:62px;background:#ffd44e;"></div>
<div class="bar" style="top:366px;width:1022px;background:#aa1c7a;"></div>
<div class="bar" style="top:513px;width:63px;background:#31600f;"></div>
<div class="bar" style="top:661px;width:28px;background:#eb2f21;"></div>
<div class="bar" style="top:808px;width:56px;background:#1800a8;"></div>

<!-- flags -->
<svg class="abs" style="left:250px;top:263px;" width="30" height="21" viewBox="0 0 30 21">
<defs><clipPath id="c1"><rect width="30" height="21" rx="3.5"/></clipPath></defs>
<g clip-path="url(#c1)"><rect x="8" y="0" width="22" height="7" fill="#0b8043"/><rect x="8" y="7" width="22" height="7" fill="#eeeeee"/><rect x="8" y="14" width="22" height="7" fill="#151515"/><rect x="0" y="0" width="8" height="21" fill="#e8262d"/></g>
</svg>
<svg class="abs" style="left:449px;top:408px;" width="31" height="24" viewBox="0 0 31 24">
<rect width="31" height="24" rx="3" fill="#efedee"/><circle cx="16" cy="13.5" r="5.7" fill="#df1c34"/>
</svg>
<svg class="abs" style="left:224px;top:558px;" width="30" height="22" viewBox="0 0 30 22">
<defs><clipPath id="c3"><rect width="30" height="22" rx="3"/></clipPath></defs>
<g clip-path="url(#c3)"><rect width="30" height="22" fill="#fbe6e8"/>
<rect y="0" width="30" height="1.7" fill="#9e3342"/><rect y="3.4" width="30" height="1.7" fill="#9e3342"/><rect y="6.8" width="30" height="1.7" fill="#9e3342"/><rect y="10.2" width="30" height="1.7" fill="#9e3342"/><rect y="13.6" width="30" height="1.7" fill="#9e3342"/><rect y="17" width="30" height="1.7" fill="#9e3342"/><rect y="20.4" width="30" height="1.7" fill="#9e3342"/>
<rect width="15" height="11.8" fill="#3b3d6e"/>
<g fill="#e8e8f4"><circle cx="3" cy="2.5" r=".7"/><circle cx="6" cy="2.5" r=".7"/><circle cx="9" cy="2.5" r=".7"/><circle cx="12" cy="2.5" r=".7"/><circle cx="4.5" cy="5" r=".7"/><circle cx="7.5" cy="5" r=".7"/><circle cx="10.5" cy="5" r=".7"/><circle cx="3" cy="7.5" r=".7"/><circle cx="6" cy="7.5" r=".7"/><circle cx="9" cy="7.5" r=".7"/><circle cx="12" cy="7.5" r=".7"/><circle cx="4.5" cy="10" r=".7"/><circle cx="7.5" cy="10" r=".7"/><circle cx="10.5" cy="10" r=".7"/></g></g>
</svg>
<svg class="abs" style="left:166px;top:705px;" width="30" height="22" viewBox="0 0 30 22">
<defs><clipPath id="c4"><rect width="30" height="22" rx="3.5"/></clipPath></defs>
<g clip-path="url(#c4)"><rect width="30" height="7.3" fill="#120808"/><rect y="7.3" width="30" height="7.4" fill="#e3232a"/><rect y="14.7" width="30" height="7.3" fill="#fcc80e"/></g>
</svg>
<svg class="abs" style="left:140px;top:852px;" width="22" height="21.5" viewBox="0 0 22 21.5">
<rect width="22" height="21.5" rx="3.5" fill="#d42b2b"/><rect x="9.4" y="5" width="3.5" height="11.8" fill="#fff"/><rect x="4.8" y="8.9" width="12.5" height="4.1" fill="#fff"/>
</svg>

<!-- labels -->
<div id="l1" class="abs lab" style="-webkit-text-stroke:0.45px #f5f4f1;letter-spacing:-0.41px;right:1262px;top:260px;">UAE (Dubai VARA / ADGM)</div>
<div id="l2" class="abs lab" style="-webkit-text-stroke:0.45px #f0f0eb;letter-spacing:-0.5px;right:1262px;top:408px;">Japan (FSA)</div>
<div id="l3" class="abs lab" style="-webkit-text-stroke:0.45px #e7ece6;letter-spacing:-0.06px;right:1262px;top:555px;">USA (New York – BitLicense)</div>
<div id="l4" class="abs lab" style="-webkit-text-stroke:0.45px #dbe6e7;letter-spacing:-0.25px;right:1262px;top:702px;">Germany (BaFin / CASP License)</div>
<div id="l5" class="abs lab" style="-webkit-text-stroke:0.45px #cfdff3;letter-spacing:-0.25px;right:1262px;top:849px;">Switzerland (FINMA / SRO License)</div>

<!-- values -->
<div id="v1" class="abs val" style="-webkit-text-stroke:0.45px #f7f4f1;letter-spacing:-0.16px;left:754px;top:259px;">AED 1.8 million+ (≈ $490,000)</div>
<div id="v2" class="abs val" style="-webkit-text-stroke:0.45px #aa1c7a;letter-spacing:-0.35px;left:694px;top:407px;color:#fdebfb;">JPY 10 million – 1 billion (≈ $65K – $8 million)</div>
<div id="v3" class="abs val" style="-webkit-text-stroke:0.45px #f3ece9;transform-origin:0 0;transform:scaleX(1.070);left:754px;top:554px;">$100,000 – $500,000+</div>
<div id="v4" class="abs val" style="-webkit-text-stroke:0.45px #e9e7ed;transform-origin:0 0;transform:scaleX(1.092);left:719px;top:701px;">€160,000 – €220,000</div>
<div id="v5" class="abs val" style="-webkit-text-stroke:0.45px #dee0f2;letter-spacing:-0.42px;left:753px;top:849px;">CHF 150K – 400K (≈ $165K – $440K)</div>

<!-- axis -->
<div id="a0" class="abs ax" style="transform:translateX(-50%) scaleX(1.15);-webkit-text-stroke:0.45px #d3dbf5;left:678px;top:934px;">$0</div>
<div id="a1" class="abs ax" style="-webkit-text-stroke:0.45px #d5dbf4;left:933.5px;top:934px;">$2,000,000</div>
<div id="a2" class="abs ax" style="-webkit-text-stroke:0.45px #d9dbf3;left:1189px;top:934px;">$4,000,000</div>
<div id="a3" class="abs ax" style="-webkit-text-stroke:0.45px #dddbf2;left:1444.5px;top:934px;">$6,000,000</div>
<div id="a4" class="abs ax" style="-webkit-text-stroke:0.45px #dfdbf2;left:1700px;top:934px;">$8,000,000</div>

<div id="src" class="abs" style="left:107px;top:1018.5px;font-size:20.5px;line-height:20.5px;font-style:italic;color:#3d5070;letter-spacing:0.5px;">Source: CoinLaw.io</div>

<!-- logo -->
<svg class="abs" style="left:1819px;top:981px;" width="86" height="87" viewBox="0 0 86 87">
<rect width="86" height="87" fill="#7838fe"/>
<circle cx="43.5" cy="43.5" r="27" fill="#c8fc55"/>
<polygon points="53,31 37,37 31,55.5 49,48" fill="#7838fe"/>
</svg>
</body></html>
